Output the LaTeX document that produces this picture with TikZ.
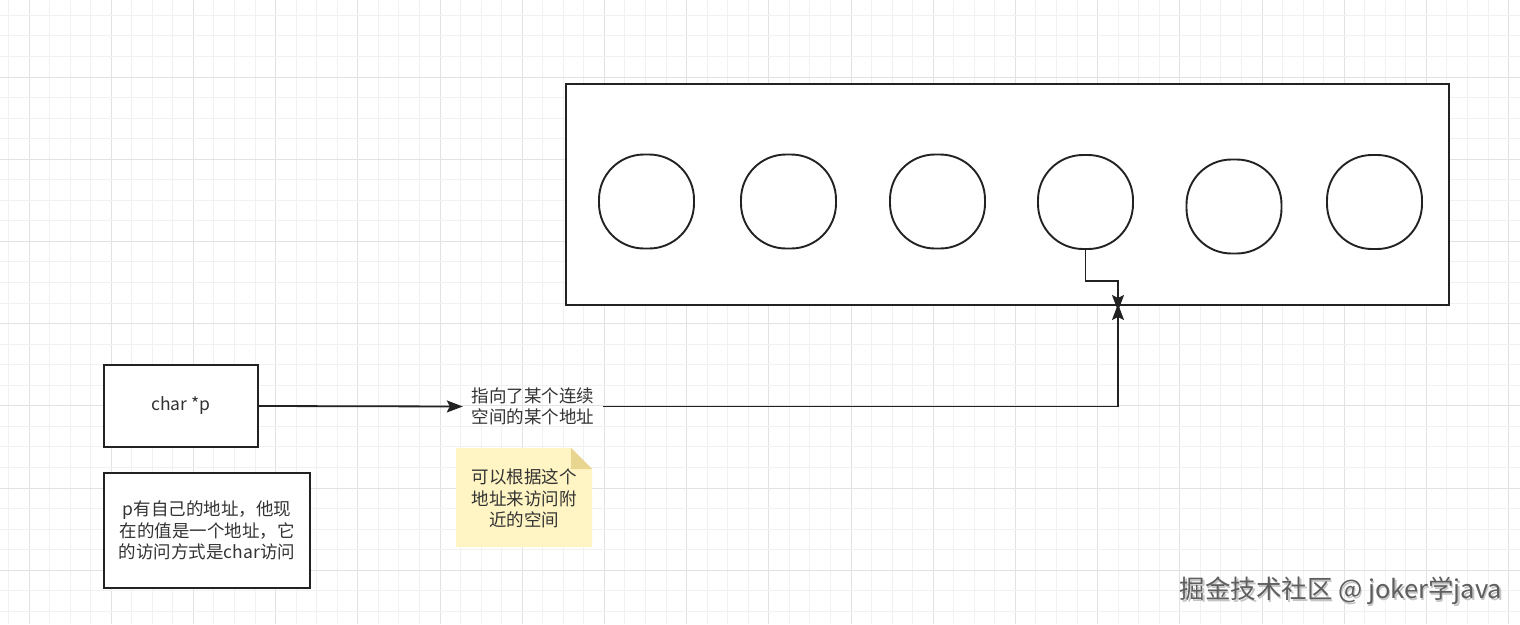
\documentclass[tikz,border=0pt]{standalone}
\usepackage{fontspec}
\newfontfamily\cjk{Noto Sans CJK SC}
\usetikzlibrary{arrows.meta,calc}
\definecolor{gridminor}{HTML}{F1F1F1}
\definecolor{gridmajor}{HTML}{E2E2E2}
\definecolor{inkline}{HTML}{222222}
\definecolor{inktext}{HTML}{333333}
\definecolor{notefill}{HTML}{FFF4C3}
\definecolor{notefold}{HTML}{E8D590}
\definecolor{wmark}{HTML}{5E5E5E}
\definecolor{wshadow}{HTML}{C4C4C4}
\begin{document}
\begin{tikzpicture}[x=1pt,y=-1pt,
  txt/.style={font=\cjk\fontsize{17.5}{21.5}\selectfont, text=inktext, align=center},
  box/.style={draw=inkline, line width=2pt, fill=white, inner sep=0pt},
  cell/.style={draw=inkline, line width=1.9pt, fill=white, rounded corners=45pt, minimum width=95pt, minimum height=94pt, inner sep=0pt},
  conn/.style={draw=inkline, line width=1.8pt},
  arrowend/.style={-{Stealth[length=16pt,width=12pt,inset=3pt]}},
]
\useasboundingbox (0,0) rectangle (1520,624);
\fill[white] (0,0) rectangle (1520,624);
% grid
\begin{scope}
\clip (0,0) rectangle (1520,624);
\foreach \k in {0,...,73}{
  \pgfmathsetmacro{\gx}{8.45+20.55*\k}
  \pgfmathtruncatemacro{\gm}{mod(\k+3,4)}
  \ifnum\gm=0
    \draw[gridmajor, line width=1pt] (\gx,0) -- (\gx,624);
  \else
    \draw[gridminor, line width=1pt] (\gx,0) -- (\gx,624);
  \fi
}
\foreach \k in {0,...,31}{
  \pgfmathsetmacro{\gy}{-5.2+20.55*\k}
  \pgfmathtruncatemacro{\gm}{mod(\k,4)}
  \ifnum\gm=0
    \draw[gridmajor, line width=1pt] (0,\gy) -- (1520,\gy);
  \else
    \draw[gridminor, line width=1pt] (0,\gy) -- (1520,\gy);
  \fi
}
\end{scope}

% memory block
\node[box, minimum width=883pt, minimum height=221pt] (mem) at (1007.5,194.5) {};
\node[cell] (c1) at (646.5,201.5) {};
\node[cell] (c2) at (788.5,201.5) {};
\node[cell] (c3) at (937.5,201.5) {};
\node[cell] (c4) at (1085.5,202) {};
\node[cell] (c5) at (1234,206.5) {};
\node[cell] (c6) at (1374.5,202) {};

% pointer boxes
\node[box, txt, minimum width=154pt, minimum height=82pt] (charp) at (181,406) {char *p};
\node[box, txt, minimum width=206pt, minimum height=115pt] (desc) at (207,530.5)
  {p有自己的地址，他现\\在的值是一个地址，它\\的访问方式是char访问};

% edge label text node
\node[txt, minimum width=140pt, inner sep=0pt] (lbl) at (533,406.5) {指向了某个连续\\空间的某个地址};

% note
\coordinate (noteNW) at (456,448);
\coordinate (noteSE) at (592,547);
\fill[notefill] (noteNW) -- ($(noteNW -| noteSE)+(-21,0)$) -- ($(noteNW -| noteSE)+(0,21)$) -- (noteSE) -- (noteNW |- noteSE) -- cycle;
\fill[notefold] ($(noteNW -| noteSE)+(-21,0)$) -- ($(noteNW -| noteSE)+(-21,21)$) -- ($(noteNW -| noteSE)+(0,21)$) -- cycle;
\node[txt] (note) at (524,498.5) {可以根据这个\\地址来访问附\\近的空间};

% connectors
\coordinate (bendY) at (0,281);
\coordinate (tipDown) at (1118,311);
\coordinate (tipUp) at (1118,304);
\draw[conn, arrowend] (charp.east) -- (lbl.west);
\draw[conn, arrowend] (lbl.east) -| (tipUp);
\draw[conn, arrowend] (c4.south) -- (c4.south |- bendY) -| (tipDown);

% watermark
\node[font=\cjk\fontsize{25.5}{30}\selectfont, text=wshadow, inner sep=0pt] (wms) at (1342.3,592.3) {掘金技术社区 @ joker学java};
\node[font=\cjk\fontsize{25.5}{30}\selectfont, text=wmark, inner sep=0pt] (wm) at (1341,591) {掘金技术社区 @ joker学java};
\end{tikzpicture}
\end{document}
